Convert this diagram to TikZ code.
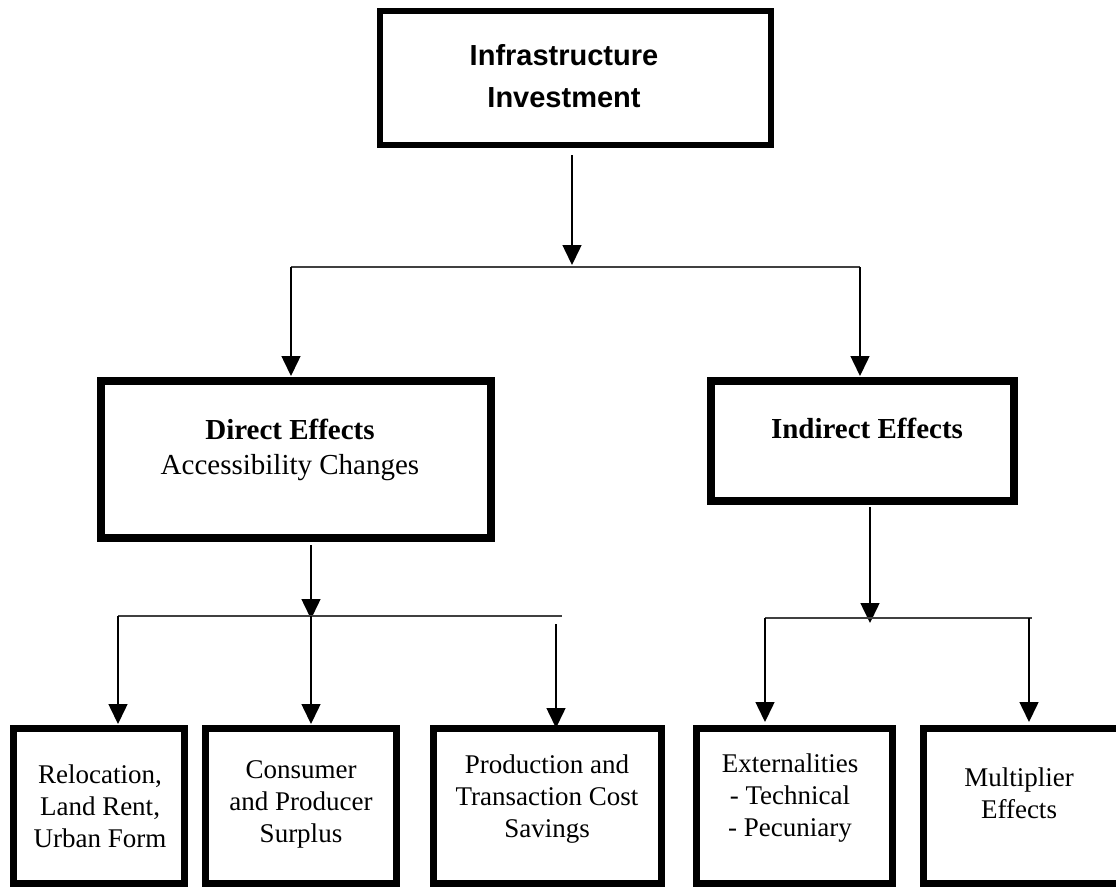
\documentclass[tikz,border=0pt]{standalone}
\usepackage{fontspec}
\setmainfont{Liberation Serif}
\newfontfamily\arialfont{Liberation Sans}
\usetikzlibrary{arrows.meta}
\begin{document}
\begin{tikzpicture}[x=1pt,y=-1pt,
  bigbox/.style={draw, line width=7pt, inner sep=0pt},
  smallbox/.style={draw, line width=7pt, inner sep=0pt},
  arr/.style={line width=1.5pt, -{Triangle[width=19pt,length=20pt]}},
  bar/.style={line width=1.2pt, draw=black!75},
  bigtxt/.style={align=center, inner sep=0pt, font=\fontsize{29}{35}\selectfont},
  smalltxt/.style={align=center, inner sep=0pt, font=\fontsize{27}{32}\selectfont}
]
\useasboundingbox (0,0) rectangle (1116,887);
\fill[white] (0,0) rectangle (1116,887);

% boxes
\node[bigbox, line width=6pt, minimum width=391pt, minimum height=134pt] (top) at (575.5,78) {};
\node[bigbox, line width=8pt, minimum width=390pt, minimum height=157pt] (direct) at (296,459.5) {};
\node[bigbox, line width=8pt, minimum width=303pt, minimum height=120pt] (indirect) at (862.5,441) {};

\node[smallbox, minimum width=171pt, minimum height=155pt] (b1) at (99,806) {};
\node[smallbox, minimum width=191pt, minimum height=155pt] (b2) at (301,806) {};
\node[smallbox, minimum width=228pt, minimum height=155pt] (b3) at (547.5,806) {};
\node[smallbox, minimum width=196pt, minimum height=155pt] (b4) at (794.5,806) {};
\node[smallbox, minimum width=210pt, minimum height=155pt] (b5) at (1028.5,806) {};

% texts
\node[bigtxt, font=\arialfont\bfseries\fontsize{29}{42}\selectfont] (ttop) at (564,76) {Infrastructure\\Investment};
\node[bigtxt] (tdirect) at (290,450) {\textbf{Direct Effects}\\Accessibility Changes};
\node[bigtxt] (tindirect) at (867,428) {\textbf{Indirect Effects}};
\node[smalltxt] (t1) at (100,806) {Relocation,\\Land Rent,\\Urban Form};
\node[smalltxt] (t2) at (301,804) {Consumer\\and Producer\\Surplus};
\node[smalltxt] (t3) at (547,799) {Production and\\Transaction Cost\\Savings};
\node[smalltxt] (t4) at (790,798) {Externalities\\- Technical\\- Pecuniary};
\node[smalltxt] (t5) at (1019,793) {Multiplier\\Effects};

% junction coordinates
\coordinate (a0) at (572,155);
\coordinate (j1) at (572,267);
\coordinate (j1l) at (291,267);
\coordinate (j1r) at (860,267);
\coordinate (d1) at (291,376);
\coordinate (d2) at (860,376);

\coordinate (a1) at (311,545);
\coordinate (j2) at (311,616);
\coordinate (j2l) at (118,616);
\coordinate (j2r) at (562,616);
\coordinate (j2c) at (556,624);
\coordinate (e1) at (118,724);
\coordinate (e2) at (311,724);
\coordinate (e3) at (556,728);

\coordinate (a2) at (870,507);
\coordinate (j3) at (870,618);
\coordinate (j3l) at (765,618);
\coordinate (j3r) at (1032,618);
\coordinate (j3rr) at (1029,618);
\coordinate (f1) at (765,722);
\coordinate (f2) at (1029,722);

% connectors
\draw[arr] (a0) -- ([yshift=2pt]j1);
\draw[bar] (j1l) -- (j1r);
\draw[arr] (j1l) -- (d1);
\draw[arr] (j1r) -- (d2);

\draw[arr] (a1) -- ([yshift=-3pt]j2);
\draw[bar] (j2l) -- (j2r);
\draw[arr] (j2l) -- (e1);
\draw[arr] (j2) -- (e2);
\draw[arr] (j2c) -- (e3);

\draw[arr] (a2) -- ([yshift=-5pt]j3);
\draw[bar] (j3l) -- (j3r);
\draw[arr] (j3l) -- (f1);
\draw[arr] (j3rr) -- (f2);
\end{tikzpicture}
\end{document}
